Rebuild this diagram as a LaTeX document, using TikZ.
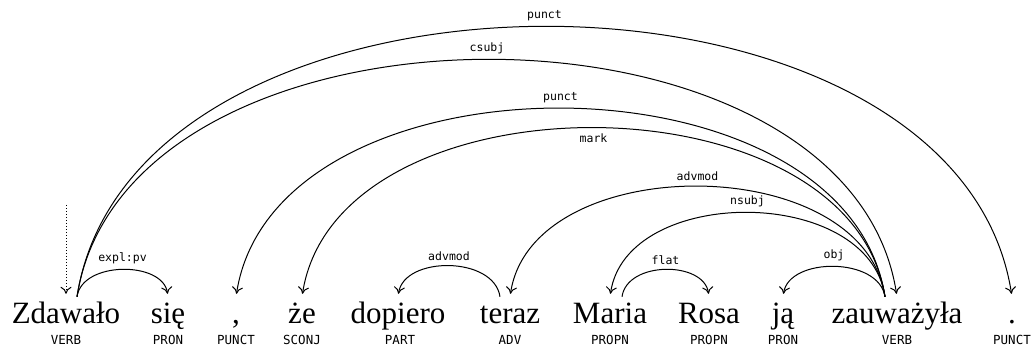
\documentclass[tikz,border=0pt]{standalone}
\usepackage{fontspec}
\setmainfont{Liberation Serif}
\newfontfamily\monofont{DejaVu Sans Mono}
\usetikzlibrary{arrows.meta}
\begin{document}
\begin{tikzpicture}[x=1pt, y=1pt, >={Computer Modern Rightarrow[length=7pt,width=11pt]},
        word/.style={font=\fontsize{31}{36}\selectfont, anchor=base, inner sep=0pt, text height=27pt, text depth=0pt},
        tag/.style={font=\monofont\fontsize{12.5}{14}\selectfont, anchor=base, inner sep=0pt},
        dep/.style={->, line width=1pt, shorten >=3pt},
        lbl/.style={font=\monofont\fontsize{11.5}{13}\selectfont, inner sep=2pt}]
      \useasboundingbox (0,0) rectangle (1033,352);
      \node[word] (zdawalo)   at (66,28)   {Zdawało};
      \node[word] (sie)       at (168,28)  {się};
      \node[word] (comma)     at (236,28)  {,};
      \node[word] (ze)        at (302,28)  {że};
      \node[word] (dopiero)   at (398,28)  {dopiero};
      \node[word] (teraz)     at (510,28)  {teraz};
      \node[word] (maria)     at (610,28)  {Maria};
      \node[word] (rosa)      at (709,28)  {Rosa};
      \node[word] (ja)        at (783,28)  {ją};
      \node[word] (zauwazyla) at (897,28)  {zauważyła};
      \node[word] (stop)      at (1012,28) {.};
      \node[tag] (tzdawalo)   at (66,7)    {VERB};
      \node[tag] (tsie)       at (168,7)   {PRON};
      \node[tag] (tcomma)     at (236,7)   {PUNCT};
      \node[tag] (tze)        at (302,7)   {SCONJ};
      \node[tag] (tdopiero)   at (400,7)   {PART};
      \node[tag] (tteraz)     at (510,7)   {ADV};
      \node[tag] (tmaria)     at (610,7)   {PROPN};
      \node[tag] (trosa)      at (709,7)   {PROPN};
      \node[tag] (tja)        at (783,7)   {PRON};
      \node[tag] (tzauwazyla) at (897,7)   {VERB};
      \node[tag] (tstop)      at (1012,7)  {PUNCT};
      \coordinate (root) at (66,147);
      \draw[dep, dotted] (root) -- (zdawalo.north);
      \draw[dep] ([xshift=11pt]zdawalo.north) .. controls +(56,360) and +(-56,360) .. (stop.north)
        node[lbl, midway, above=3pt] {punct};
      \draw[dep] ([xshift=11pt]zdawalo.north) .. controls +(49,316) and +(-49,316) .. (zauwazyla.north)
        node[lbl, midway, above=3pt] {csubj};
      \draw[dep] ([xshift=11pt]zdawalo.north) .. controls +(5,36) and +(-5,36) .. (sie.north)
        node[lbl, midway, above=3pt] {expl:pv};
      \draw[dep] ([xshift=-12pt]zauwazyla.north) .. controls +(-39,251) and +(39,251) .. (comma.north)
        node[lbl, midway, above=3pt] {punct};
      \draw[dep] ([xshift=-12pt]zauwazyla.north) .. controls +(-35,225) and +(35,225) .. (ze.north)
        node[lbl, midway, below=3pt] {mark};
      \draw[dep] ([xshift=-12pt]zauwazyla.north) .. controls +(-22,147) and +(22,147) .. (teraz.north)
        node[lbl, midway, above=3pt] {advmod};
      \draw[dep] ([xshift=-12pt]zauwazyla.north) .. controls +(-16,112) and +(16,112) .. (maria.north)
        node[lbl, midway, above=3pt] {nsubj};
      \draw[dep] ([xshift=-12pt]zauwazyla.north) .. controls +(-6,40) and +(6,40) .. (ja.north)
        node[lbl, midway, above=3pt] {obj};
      \draw[dep] ([xshift=-10pt]teraz.north) .. controls +(-6,41) and +(6,41) .. (dopiero.north)
        node[lbl, midway, above=3pt] {advmod};
      \draw[dep] ([xshift=12pt]maria.north) .. controls +(5,36) and +(-5,36) .. (rosa.north)
        node[lbl, midway, above=3pt] {flat};
    \end{tikzpicture}
\end{document}
